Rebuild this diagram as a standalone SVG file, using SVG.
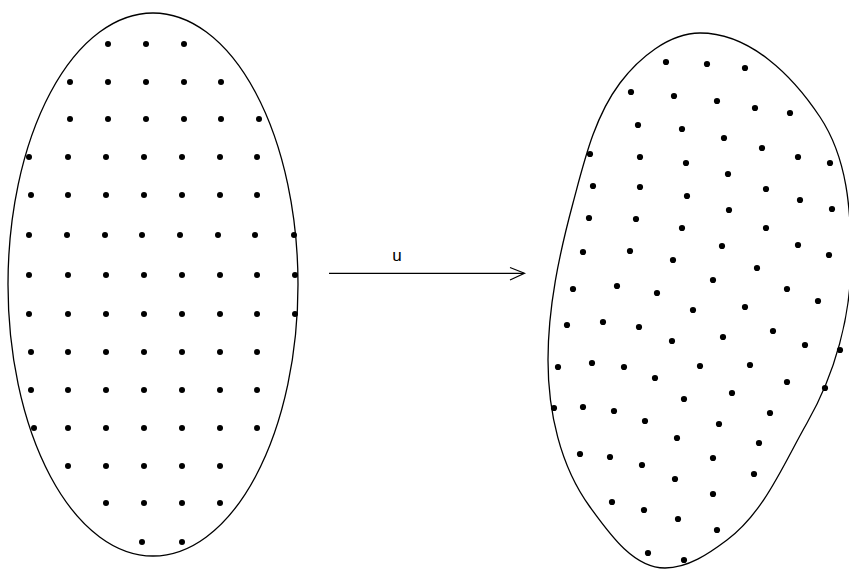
<svg xmlns="http://www.w3.org/2000/svg" width="849" height="571" viewBox="0 0 849 571">
<style>
.outline{fill:none;stroke:#000;stroke-width:1.3}
.dots circle{fill:#000}
.conn{fill:none;stroke:#000;stroke-width:1.2}
.lbl{font-family:"Liberation Sans",Arial,sans-serif;font-size:17px;fill:#000}
</style>
<rect width="849" height="571" fill="#fff"/>
<g id="domain-left">
<ellipse class="outline" cx="153" cy="284.5" rx="145" ry="271.5"/>
<g class="dots">
<circle cx="108" cy="44" r="3"/><circle cx="146" cy="44" r="3"/><circle cx="184" cy="44" r="3"/>
<circle cx="70" cy="82" r="3"/><circle cx="108" cy="82" r="3"/><circle cx="146" cy="82" r="3"/><circle cx="184" cy="82" r="3"/><circle cx="221" cy="82" r="3"/>
<circle cx="70" cy="119" r="3"/><circle cx="108" cy="119" r="3"/><circle cx="146" cy="119" r="3"/><circle cx="184" cy="119" r="3"/><circle cx="221" cy="119" r="3"/><circle cx="259" cy="119" r="3"/>
<circle cx="29" cy="157" r="3"/><circle cx="68" cy="157" r="3"/><circle cx="106" cy="157" r="3"/><circle cx="144" cy="157" r="3"/><circle cx="182" cy="157" r="3"/><circle cx="220" cy="157" r="3"/><circle cx="257" cy="157" r="3"/>
<circle cx="31" cy="195" r="3"/><circle cx="68" cy="195" r="3"/><circle cx="106" cy="195" r="3"/><circle cx="144" cy="195" r="3"/><circle cx="182" cy="195" r="3"/><circle cx="220" cy="195" r="3"/><circle cx="257" cy="195" r="3"/>
<circle cx="29" cy="235" r="3"/><circle cx="67" cy="235" r="3"/><circle cx="105" cy="235" r="3"/><circle cx="142" cy="235" r="3"/><circle cx="180" cy="235" r="3"/><circle cx="218" cy="235" r="3"/><circle cx="255" cy="235" r="3"/><circle cx="294" cy="235" r="3"/>
<circle cx="29" cy="275" r="3"/><circle cx="68" cy="275" r="3"/><circle cx="106" cy="275" r="3"/><circle cx="144" cy="275" r="3"/><circle cx="182" cy="275" r="3"/><circle cx="220" cy="275" r="3"/><circle cx="257" cy="275" r="3"/><circle cx="295" cy="275" r="3"/>
<circle cx="29" cy="314" r="3"/><circle cx="68" cy="314" r="3"/><circle cx="106" cy="314" r="3"/><circle cx="144" cy="314" r="3"/><circle cx="182" cy="314" r="3"/><circle cx="220" cy="314" r="3"/><circle cx="257" cy="314" r="3"/><circle cx="295" cy="314" r="3"/>
<circle cx="31" cy="352" r="3"/><circle cx="68" cy="352" r="3"/><circle cx="106" cy="352" r="3"/><circle cx="144" cy="352" r="3"/><circle cx="182" cy="352" r="3"/><circle cx="220" cy="352" r="3"/><circle cx="257" cy="352" r="3"/>
<circle cx="31" cy="390" r="3"/><circle cx="68" cy="390" r="3"/><circle cx="106" cy="390" r="3"/><circle cx="144" cy="390" r="3"/><circle cx="182" cy="390" r="3"/><circle cx="220" cy="390" r="3"/><circle cx="257" cy="390" r="3"/>
<circle cx="34" cy="428" r="3"/><circle cx="68" cy="428" r="3"/><circle cx="106" cy="428" r="3"/><circle cx="144" cy="428" r="3"/><circle cx="182" cy="428" r="3"/><circle cx="220" cy="428" r="3"/><circle cx="257" cy="428" r="3"/>
<circle cx="68" cy="466" r="3"/><circle cx="106" cy="466" r="3"/><circle cx="144" cy="466" r="3"/><circle cx="182" cy="466" r="3"/><circle cx="220" cy="466" r="3"/>
<circle cx="106" cy="503" r="3"/><circle cx="144" cy="503" r="3"/><circle cx="182" cy="503" r="3"/><circle cx="220" cy="503" r="3"/>
<circle cx="142" cy="542" r="3"/><circle cx="182" cy="542" r="3"/>
</g>
</g>
<g id="domain-right">
<path class="outline" d="M700,33 C750,33 792.5,75.5 820,117 C847.5,158.5 851,210 851,260 C851,316 835,374 807,423 C783.5,464 764.6,511.8 727,540 C708.6,553.8 688,568 665,568 C633,568 608.9,532.9 590,507 C559.9,465.7 548,411 548,360 C548,307 559.2,254.4 573,203 C584.2,161.3 594.2,117.4 620,83 C638.6,58.2 669,33 700,33 Z"/>
<g class="dots">
<circle cx="666" cy="62" r="3.1"/><circle cx="707" cy="64" r="3.1"/><circle cx="745" cy="68" r="3.1"/>
<circle cx="631" cy="92" r="3.1"/><circle cx="674" cy="96" r="3.1"/><circle cx="717" cy="101" r="3.1"/><circle cx="755" cy="108" r="3.1"/><circle cx="790" cy="113" r="3.1"/>
<circle cx="638" cy="125" r="3.1"/><circle cx="682" cy="129" r="3.1"/><circle cx="724" cy="138" r="3.1"/><circle cx="762" cy="148" r="3.1"/><circle cx="798" cy="157" r="3.1"/><circle cx="830" cy="163" r="3.1"/>
<circle cx="590" cy="154" r="3.1"/><circle cx="640" cy="157" r="3.1"/><circle cx="686" cy="163" r="3.1"/><circle cx="728" cy="174" r="3.1"/><circle cx="766" cy="189" r="3.1"/><circle cx="800" cy="200" r="3.1"/><circle cx="832" cy="209" r="3.1"/>
<circle cx="593" cy="186" r="3.1"/><circle cx="640" cy="187" r="3.1"/><circle cx="687" cy="196" r="3.1"/><circle cx="729" cy="210" r="3.1"/><circle cx="766" cy="228" r="3.1"/><circle cx="798" cy="245" r="3.1"/><circle cx="829" cy="255" r="3.1"/>
<circle cx="589" cy="218" r="3.1"/><circle cx="636" cy="219" r="3.1"/><circle cx="682" cy="228" r="3.1"/><circle cx="722" cy="246" r="3.1"/><circle cx="757" cy="268" r="3.1"/>
<circle cx="583" cy="252" r="3.1"/><circle cx="630" cy="251" r="3.1"/><circle cx="673" cy="260" r="3.1"/><circle cx="713" cy="280" r="3.1"/><circle cx="787" cy="289" r="3.1"/>
<circle cx="573" cy="289" r="3.1"/><circle cx="617" cy="286" r="3.1"/><circle cx="657" cy="293" r="3.1"/><circle cx="818" cy="301" r="3.1"/>
<circle cx="693" cy="310" r="3.1"/><circle cx="745" cy="307" r="3.1"/>
<circle cx="567" cy="325" r="3.1"/><circle cx="603" cy="322" r="3.1"/><circle cx="639" cy="327" r="3.1"/><circle cx="672" cy="341" r="3.1"/><circle cx="723" cy="337" r="3.1"/><circle cx="773" cy="331" r="3.1"/><circle cx="805" cy="345" r="3.1"/><circle cx="840" cy="350" r="3.1"/>
<circle cx="558" cy="367" r="3.1"/><circle cx="592" cy="363" r="3.1"/><circle cx="624" cy="367" r="3.1"/><circle cx="655" cy="378" r="3.1"/><circle cx="700" cy="366" r="3.1"/><circle cx="750" cy="365" r="3.1"/><circle cx="787" cy="382" r="3.1"/><circle cx="825" cy="388" r="3.1"/>
<circle cx="554" cy="408" r="3.1"/><circle cx="583" cy="407" r="3.1"/><circle cx="614" cy="411" r="3.1"/><circle cx="684" cy="399" r="3.1"/><circle cx="732" cy="393" r="3.1"/><circle cx="645" cy="421" r="3.1"/><circle cx="719" cy="424" r="3.1"/><circle cx="770" cy="413" r="3.1"/>
<circle cx="677" cy="438" r="3.1"/><circle cx="759" cy="443" r="3.1"/>
<circle cx="580" cy="454" r="3.1"/><circle cx="610" cy="457" r="3.1"/><circle cx="642" cy="465" r="3.1"/><circle cx="713" cy="458" r="3.1"/><circle cx="675" cy="479" r="3.1"/><circle cx="754" cy="474" r="3.1"/>
<circle cx="612" cy="502" r="3.1"/><circle cx="644" cy="510" r="3.1"/><circle cx="713" cy="494" r="3.1"/><circle cx="678" cy="519" r="3.1"/><circle cx="717" cy="530" r="3.1"/>
<circle cx="648" cy="553" r="3.1"/><circle cx="684" cy="560" r="3.1"/>
</g>
</g>
<g id="connectors">
<line class="conn" x1="329" y1="273.3" x2="524" y2="273.3"/>
<polyline class="conn" points="510,267.5 524.5,273.3 510,280"/>
<text class="lbl" x="397" y="261" text-anchor="middle">u</text>
</g>
</svg>
